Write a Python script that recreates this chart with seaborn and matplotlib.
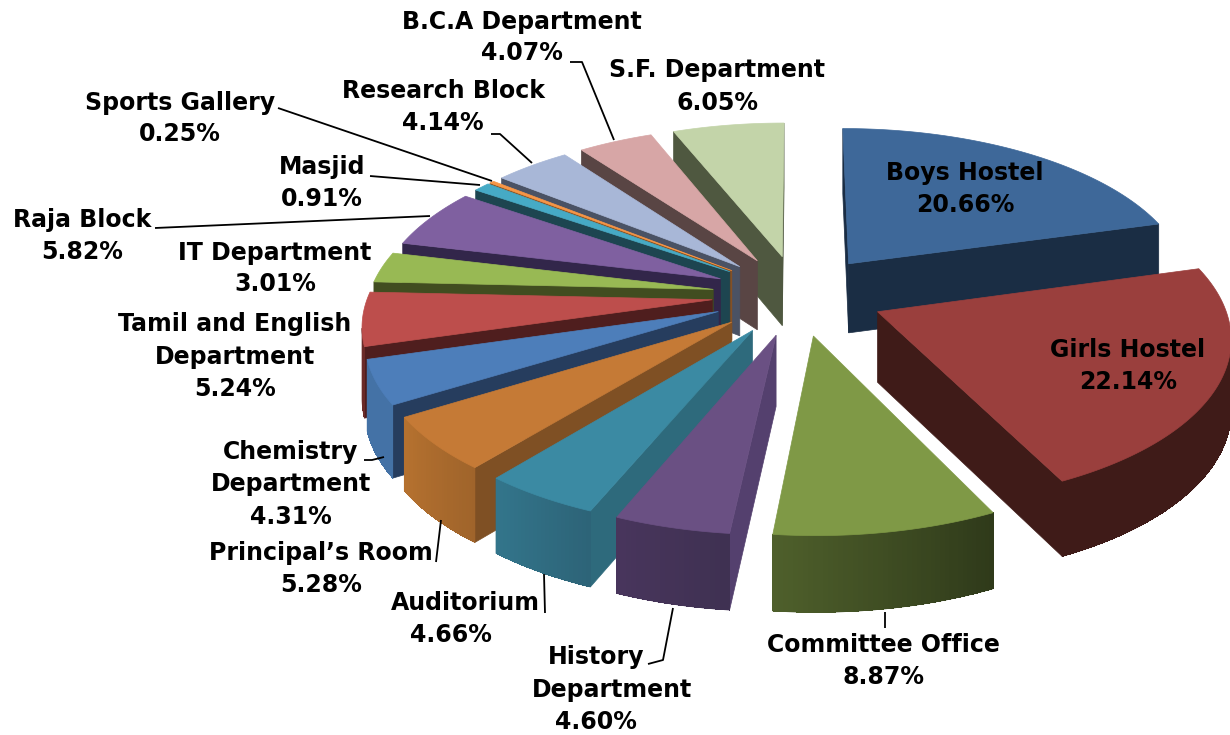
import numpy as np
import seaborn as sns
import matplotlib
matplotlib.use("Agg")
import matplotlib.pyplot as plt
from matplotlib.colors import to_rgb
from matplotlib.patches import Polygon

sns.set_theme(style="white")
plt.rcParams['font.family'] = ['DejaVu Sans']

names = ["Boys Hostel", "Girls Hostel", "Committee Office", "History Department", "Auditorium",
         "Principal's Room", "Chemistry Department", "Tamil and English Department", "IT Department",
         "Raja Block", "Masjid", "Sports Gallery", "Research Block", "B.C.A Department", "S.F. Department"]
values = [20.66, 22.14, 8.87, 4.60, 4.66, 5.28, 4.31, 5.24, 3.01, 5.82, 0.91, 0.25, 4.14, 4.07, 6.05]

top_colors = ["#3E6899", "#9A3F3D", "#7F9946", "#6A5083", "#3B8AA3", "#C57A36", "#4D7EBA", "#BD4E4C",
              "#98B954", "#7F60A0", "#46AAC5", "#F79646", "#A8B7D7", "#D7A6A6", "#C3D4A9"]
cut_colors = ["#1A2D44", "#3F1B18", "#4A5A2A", "#54406E", "#2E6A7C", "#7F5024", "#263D5E", "#4F1E1E",
              "#414D20", "#32264A", "#1D4550", "#8A5020", "#4A5264", "#594544", "#4F5840"]
wall_right = ["#1A2D44", "#3F1B18", "#2F3A1A", "#3F3152", "#2D6478", "#A0642B", "#4472A6", "#6A2A28",
              "#5F7530", "#4A3868", "#2A6A7C", "#A05A20", "#6A7590", "#8A6A6A", "#7A8A68"]
wall_left = ["#1A2D44", "#3F1B18", "#4E5F2B", "#48355C", "#33758B", "#B5712F", "#4472A6", "#6A2A28",
             "#5F7530", "#4A3868", "#2A6A7C", "#A05A20", "#6A7590", "#8A6A6A", "#7A8A68"]

# label text lines with their centres, in image pixels
label_lines = [
    [("Boys Hostel", 965, 173), ("20.66%", 965, 205)],
    [("Girls Hostel", 1128, 350), ("22.14%", 1128, 382)],
    [("Committee Office", 883, 645), ("8.87%", 883, 677)],
    [("History", 596, 657), ("Department", 612, 690), ("4.60%", 596, 722)],
    [("Auditorium", 465, 603), ("4.66%", 451, 635)],
    [("Principal\u2019s Room", 321, 553), ("5.28%", 321, 585)],
    [("Chemistry", 291, 452), ("Department", 291, 484), ("4.31%", 291, 517)],
    [("Tamil and English", 235, 324), ("Department", 235, 357), ("5.24%", 235, 389)],
    [("IT Department", 275, 253), ("3.01%", 275, 284)],
    [("Raja Block", 82, 220), ("5.82%", 82, 252)],
    [("Masjid", 322, 167), ("0.91%", 322, 199)],
    [("Sports Gallery", 180, 103), ("0.25%", 180, 134)],
    [("Research Block", 443, 91), ("4.14%", 443, 123)],
    [("B.C.A Department", 522, 22), ("4.07%", 522, 53)],
    [("S.F. Department", 717, 70), ("6.05%", 717, 103)],
]
leaders = [
    [(885, 612), (885, 628)],
    [(673, 608), (663, 660), (648, 664)],
    [(544, 574), (545, 613)],
    [(441, 520), (436, 562)],
    [(384, 457), (372, 460), (364, 460)],
    [(155, 228), (430, 216)],
    [(370, 176), (480, 185)],
    [(278, 108), (492, 181)],
    [(491, 134), (500, 134), (532, 163)],
    [(570, 62), (582, 62), (614, 140)],
]

CX, CY = 798, 295
RX, RY = 344, 161
EXPLODE = 0.25
DEPTH = 7.5
HEIGHT = 70


def project(x, y, z):
    s = DEPTH / (DEPTH + y)
    return CX + RX * x * s, CY - RY * y * s + HEIGHT * z * s ** 0.5


def area(pts):
    p = np.array(pts)
    return 0.5 * np.sum(p[:, 0] * np.roll(p[:, 1], -1) - np.roll(p[:, 0], -1) * p[:, 1])


def mix(c1, c2, t):
    a, b = np.array(to_rgb(c1)), np.array(to_rgb(c2))
    return tuple(a + (b - a) * t)


fig = plt.figure(figsize=(12.3, 7.35), dpi=100)
ax = fig.add_axes([0, 0, 1, 1])
ax.set_xlim(0, 1230)
ax.set_ylim(735, 0)
ax.axis("off")

edges = np.radians(np.concatenate([[0], np.cumsum(values)]) / sum(values) * 360)
mids = (edges[:-1] + edges[1:]) / 2
order = np.argsort(-np.cos(mids))


def face(pts, color):
    if area(pts) < 0:
        ax.add_patch(Polygon(pts, closed=True, fc=color, ec=color, lw=0.5))


for i in order:
    ox, oy = EXPLODE * np.sin(mids[i]), EXPLODE * np.cos(mids[i])
    angs = np.linspace(edges[i], edges[i + 1], max(4, int(np.degrees(edges[i + 1] - edges[i]) * 1.5)))
    rim = [(ox + np.sin(a), oy + np.cos(a)) for a in angs]

    # the two cut faces
    face([project(ox, oy, 0), project(*rim[0], 0), project(*rim[0], 1), project(ox, oy, 1)], cut_colors[i])
    face([project(*rim[-1], 0), project(ox, oy, 0), project(ox, oy, 1), project(*rim[-1], 1)], cut_colors[i])

    # outer wall: visible strips joined first, so that no seam shows between the shaded strips
    strips = []
    for j in range(len(rim) - 1):
        t = j / max(1, len(rim) - 2)
        quad = [project(*rim[j], 0), project(*rim[j + 1], 0), project(*rim[j + 1], 1), project(*rim[j], 1)]
        if area(quad) < 0:
            strips.append((quad, mix(wall_right[i], wall_left[i], t)))
    if strips:
        upper = [q[0] for q, c in strips] + [strips[-1][0][1]]
        lower = [q[3] for q, c in strips] + [strips[-1][0][2]]
        base = mix(wall_right[i], wall_left[i], 0.5)
        ax.add_patch(Polygon(upper + lower[::-1], closed=True, fc=base, ec=base, lw=0.5))
        for quad, c in strips:
            ax.add_patch(Polygon(quad, closed=True, fc=c, ec="none", antialiased=False))

    top = [project(ox, oy, 0)] + [project(*p, 0) for p in rim]
    ax.add_patch(Polygon(top, closed=True, fc=top_colors[i], ec=top_colors[i], lw=0.5))

for line in leaders:
    xs, ys = zip(*line)
    ax.plot(xs, ys, color="black", lw=1.3, solid_capstyle="butt")

for lines in label_lines:
    for txt, x, y in lines:
        ax.text(x, y, txt, ha="center", va="center", fontsize=17, fontweight="bold", color="black")

fig.savefig("out.png", dpi=100)
